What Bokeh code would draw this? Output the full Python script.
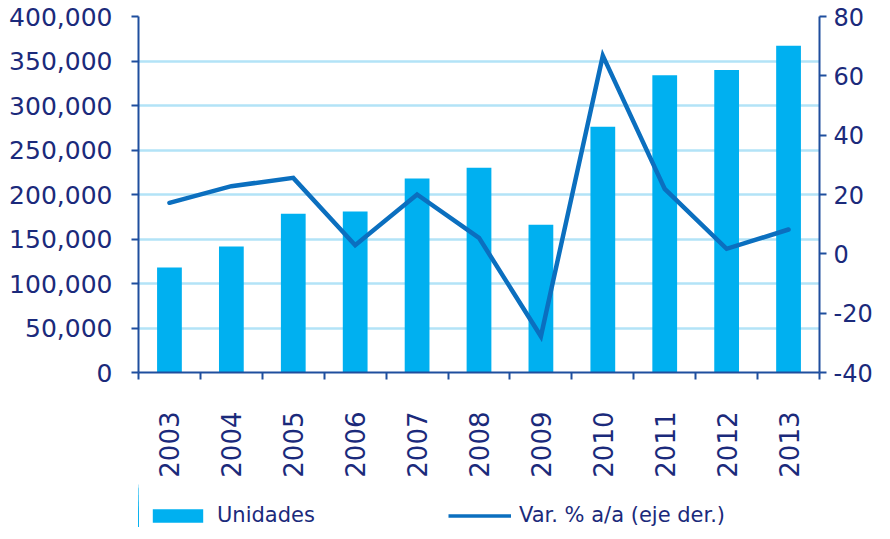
import math
import numpy as np
from bokeh.plotting import figure
from bokeh.layouts import column
from bokeh.models import (Range1d, LinearAxis, FixedTicker, Legend, LegendItem)
from bokeh.embed import file_html
from bokeh.resources import INLINE

# ---- data ----
years = ["2003", "2004", "2005", "2006", "2007", "2008", "2009", "2010", "2011", "2012", "2013"]
unidades = [118000, 141500, 178500, 181000, 218000, 230000, 166000, 276000, 334000, 340000, 367000]
var_pct = [17.2, 22.8, 25.6, 2.9, 20.0, 5.4, -27.8, 66.8, 21.9, 1.7, 8.2]
left_ticks = [0, 50000, 100000, 150000, 200000, 250000, 300000, 350000, 400000]
left_labels = ["0", "50,000", "100,000", "150,000", "200,000", "250,000", "300,000", "350,000", "400,000"]
right_ticks = [-40, -20, 0, 20, 40, 60, 80]
right_labels = ["-40", "-20", "0", "20", "40", "60", "80"]
series_names = ["Unidades", "Var. % a/a (eje der.)"]

# ---- styles ----
TEXT = "#1B2A7B"
AXIS = "#1F4E9E"
GRID = "#B3E3F7"
BAR = "#00B0F0"
LINE = "#0B6FBF"
FONT = "DejaVu Sans"

n = len(years)
xc = np.arange(n) + 0.5

p = figure(frame_width=681, frame_height=356,
           min_border_left=138, min_border_right=55, min_border_top=16, min_border_bottom=104,
           x_range=Range1d(0, n), y_range=Range1d(0, 400000),
           output_backend="svg", toolbar_location=None, tools="")
p.outline_line_color = None
p.background_fill_color = "white"
p.border_fill_color = "white"

p.extra_y_ranges = {"pct": Range1d(-40, 80)}

p.vbar(x=xc, top=unidades, width=0.4, fill_color=BAR, line_color=None)
p.line(x=xc, y=var_pct, y_range_name="pct", line_color=LINE, line_width=4.5,
       line_join="miter", line_cap="round")

# grid
p.xgrid.visible = False
p.ygrid.ticker = FixedTicker(ticks=left_ticks)
p.ygrid.grid_line_color = GRID
p.ygrid.grid_line_width = 2.5
p.ygrid.level = "underlay"

# x axis
xa = p.xaxis[0]
xa.ticker = FixedTicker(ticks=list(xc), minor_ticks=list(range(n + 1)))
xa.major_label_overrides = {float(x): y for x, y in zip(xc, years)}
xa.major_label_orientation = math.pi / 2
xa.major_tick_line_color = None
xa.major_tick_out = 0
xa.major_tick_in = 0
xa.minor_tick_line_color = AXIS
xa.minor_tick_line_width = 2
xa.minor_tick_out = 7
xa.minor_tick_in = 0
xa.axis_line_color = AXIS
xa.axis_line_width = 2
xa.major_label_standoff = 32
xa.major_label_text_font = FONT
xa.major_label_text_font_size = "26px"
xa.major_label_text_color = TEXT

# left axis
ya = p.yaxis[0]
ya.ticker = FixedTicker(ticks=left_ticks)
ya.major_label_overrides = {t: l for t, l in zip(left_ticks, left_labels)}
ya.axis_line_color = AXIS
ya.axis_line_width = 2
ya.major_tick_line_color = AXIS
ya.major_tick_line_width = 2
ya.major_tick_out = 7
ya.major_tick_in = 0
ya.minor_tick_line_color = None
ya.major_label_standoff = 19
ya.major_label_text_font = FONT
ya.major_label_text_font_size = "25px"
ya.major_label_text_color = TEXT

# right axis
ra = LinearAxis(y_range_name="pct", ticker=FixedTicker(ticks=right_ticks))
ra.major_label_overrides = {t: l for t, l in zip(right_ticks, right_labels)}
ra.axis_line_color = AXIS
ra.axis_line_width = 2
ra.major_tick_line_color = AXIS
ra.major_tick_line_width = 2
ra.major_tick_out = 7
ra.major_tick_in = 0
ra.minor_tick_line_color = None
ra.major_label_standoff = 7
ra.major_label_text_font = FONT
ra.major_label_text_font_size = "24px"
ra.major_label_text_color = TEXT
p.add_layout(ra, "right")

# legend strip (separate small figure below the chart; its key renderers
# use the same series but lie far outside that strip's visible x range)
pl = figure(width=874, height=47, min_border=0, x_axis_type=None, y_axis_type=None,
            x_range=Range1d(1000, 1001), y_range=Range1d(0, 400000),
            output_backend="svg", toolbar_location=None, tools="")
pl.outline_line_color = None
pl.background_fill_color = "white"
pl.border_fill_color = "white"
bar_key = pl.vbar(x=xc, top=unidades, width=0.4, fill_color=BAR, line_color=None)
line_key = pl.line(x=xc, y=var_pct, line_color=LINE, line_width=3.5)
legend = Legend(items=[LegendItem(label=series_names[0], renderers=[bar_key]),
                       LegendItem(label=series_names[1], renderers=[line_key])],
                location=(8, 0), orientation="horizontal",
                glyph_width=63, glyph_height=17, label_standoff=8, spacing=133,
                padding=0, margin=0, border_line_color=None, background_fill_alpha=0,
                label_text_font=FONT, label_text_font_size="21px", label_text_color=TEXT)
pl.add_layout(legend, "center")

layout = column(p, pl, spacing=0)
open("out.html", "w").write(file_html(layout, INLINE))
